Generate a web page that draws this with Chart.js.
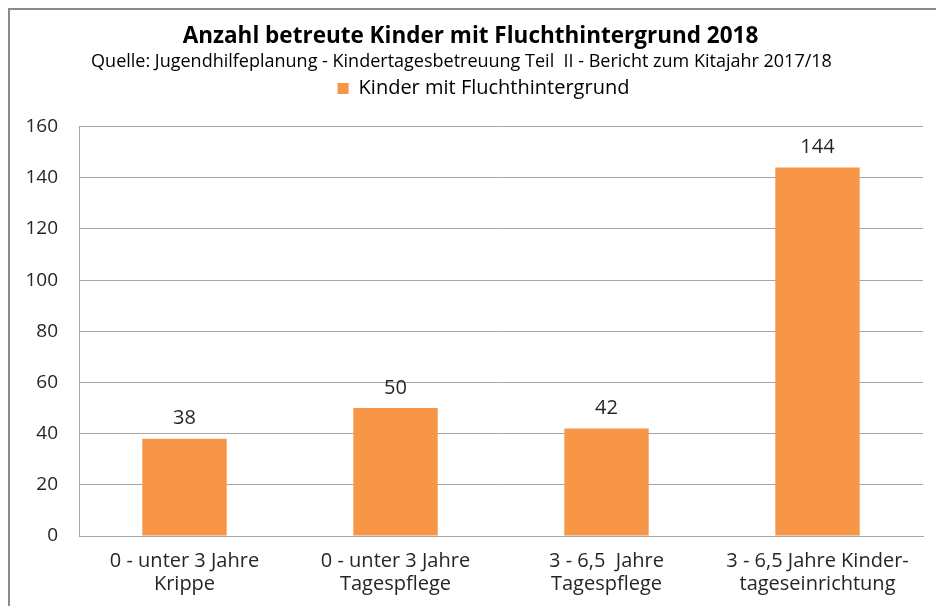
<!DOCTYPE html>
<html>
<head>
<meta charset="utf-8">
<script src="https://cdn.jsdelivr.net/npm/chart.js@4"></script>
<style>
  html, body { margin: 0; padding: 0; background: #ffffff; }
  #wrap { position: relative; width: 936px; height: 606px; overflow: hidden; }
  #frame { position: absolute; left: 8px; top: 8px; width: 1000px; height: 700px; border: 2px solid #8a8a8a; }
  #myChart { position: absolute; left: 0; top: 0; }
</style>
</head>
<body>
<div id="wrap">
  <div id="frame"></div>
  <canvas id="myChart" width="936" height="606"></canvas>
</div>
<script>
const categories = [
    ['0 - unter 3 Jahre', 'Krippe'],
    ['0 - unter 3 Jahre', 'Tagespflege'],
    ['3 - 6,5  Jahre', 'Tagespflege'],
    ['3 - 6,5 Jahre Kinder-', 'tageseinrichtung']
];
const kinderValues = [38, 50, 42, 144];
const yTicks = [0, 20, 40, 60, 80, 100, 120, 140, 160];

const fontName = "'Open Sans', sans-serif";

// value labels above the bars
const valueLabels = {
    id: 'valueLabels',
    afterDatasetsDraw(chart) {
        const ctx = chart.ctx;
        const meta = chart.getDatasetMeta(0);
        ctx.save();
        ctx.font = '20px ' + fontName;
        ctx.fillStyle = '#262626';
        ctx.textAlign = 'center';
        ctx.textBaseline = 'middle';
        meta.data.forEach((bar, i) => {
            ctx.fillText(String(kinderValues[i]), bar.x, bar.y - 20);
        });
        ctx.restore();
    }
};

// extra space under the legend, and nudge title / legend sideways like the original
const headerTweaks = {
    id: 'headerTweaks',
    afterInit(chart) {
        const origFit = chart.legend.fit;
        chart.legend.fit = function () {
            origFit.call(this);
            this.height += 18;
        };
    },
    afterLayout(chart) {
        chart.legend.left += 22;
        chart.legend.right += 22;
        chart.titleBlock.left += 9;
        chart.titleBlock.right += 9;
    }
};

new Chart(document.getElementById('myChart'), {
    type: 'bar',
    data: {
        labels: categories,
        datasets: [{
            label: 'Kinder mit Fluchthintergrund',
            data: kinderValues,
            backgroundColor: '#f79646',
            borderWidth: 0,
            barPercentage: 0.4,
            categoryPercentage: 1
        }]
    },
    options: {
        responsive: false,
        animation: false,
        layout: { padding: { left: 0, right: 13, top: 0, bottom: 0 } },
        scales: {
            y: {
                min: 0,
                max: 160,
                afterBuildTicks: (scale) => { scale.ticks = yTicks.map(v => ({ value: v })); },
                afterFit: (scale) => { scale.width = 79; },
                grid: { color: '#a6a6a6', lineWidth: 1, drawTicks: false },
                border: { color: '#a6a6a6', width: 1 },
                ticks: { color: '#262626', padding: 21, font: { family: fontName, size: 19 } }
            },
            x: {
                afterFit: (scale) => { scale.height = 70; },
                grid: { display: false, drawTicks: false },
                border: { color: '#a6a6a6', width: 1 },
                ticks: {
                    color: '#262626',
                    padding: 14,
                    maxRotation: 0,
                    font: { family: fontName, size: 20, lineHeight: 1.15 }
                }
            }
        },
        plugins: {
            title: {
                display: true,
                text: 'Anzahl betreute Kinder mit Fluchthintergrund 2018',
                color: '#000000',
                font: { family: fontName, size: 22.5, weight: 'bold', lineHeight: 1.2 },
                padding: { top: 23, bottom: 1 }
            },
            subtitle: {
                display: true,
                text: 'Quelle: Jugendhilfeplanung - Kindertagesbetreuung Teil  II - Bericht zum Kitajahr 2017/18',
                color: '#000000',
                font: { family: fontName, size: 18, lineHeight: 1.2 },
                padding: { top: 0, bottom: 0 }
            },
            legend: {
                display: true,
                labels: {
                    color: '#000000',
                    boxWidth: 11,
                    boxHeight: 11,
                    padding: 6,
                    font: { family: fontName, size: 20 }
                }
            },
            tooltip: { enabled: false }
        }
    },
    plugins: [valueLabels, headerTweaks]
});
</script>
</body>
</html>
